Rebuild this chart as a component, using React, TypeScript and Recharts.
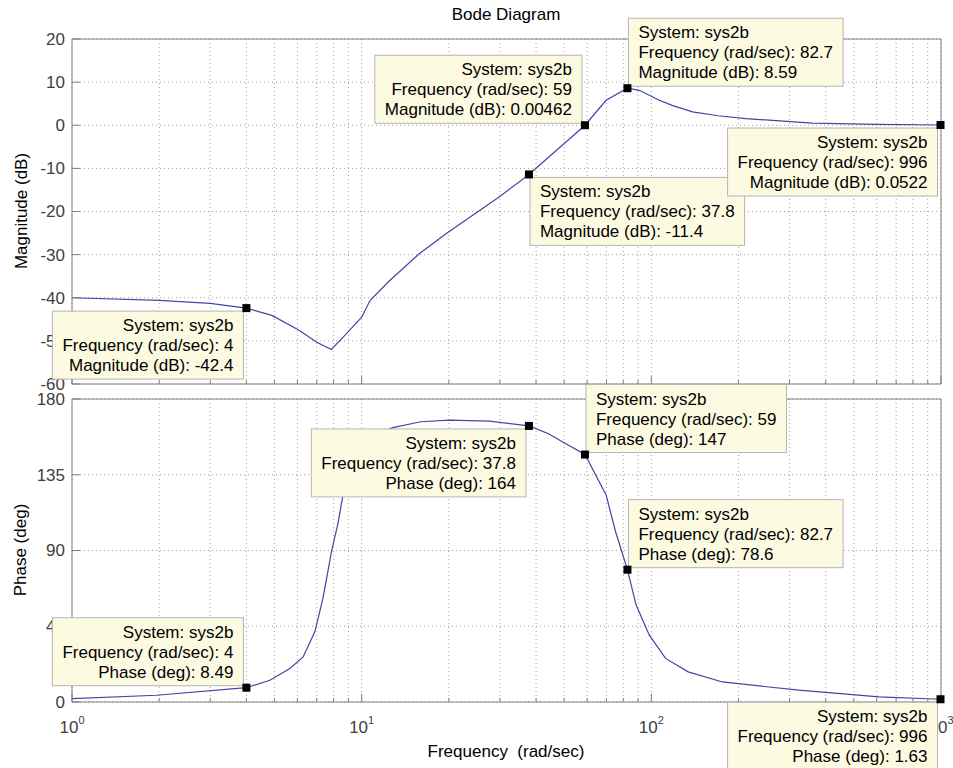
import React from "react";
import { LineChart, Line, XAxis, YAxis, CartesianGrid, ReferenceDot } from "recharts";

// axis ticks
const freqTicks = [1, 2, 3, 4, 5, 6, 7, 8, 9, 10, 20, 30, 40, 50, 60, 70, 80, 90, 100, 200, 300, 400, 500, 600, 700, 800, 900, 1000];
const magTicks = [-60, -50, -40, -30, -20, -10, 0, 10, 20];
const phaseTicks = [0, 45, 90, 135, 180];

// magnitude curve (rad/sec, dB)
const magFreq = [1, 2, 3, 4, 4.9, 6.1, 7.0, 7.86, 8.86, 10, 10.7, 12.5, 15.8, 19.6, 29.9, 37.8, 59, 69.8, 82.7, 90.8, 106.6, 118, 138.8, 170, 212, 359, 600, 996];
const magDb = [-40.0, -40.6, -41.3, -42.4, -44.1, -47.6, -50.3, -52.0, -48.3, -44.5, -40.6, -36.0, -29.8, -25.1, -16.6, -11.4, 0.00462, 5.8, 8.59, 8.1, 5.8, 4.6, 3.1, 2.2, 1.55, 0.5, 0.2, 0.0522];

// phase curve (rad/sec, deg)
const phaseFreq = [1, 1.96, 4, 4.82, 5.65, 6.28, 6.9, 7.36, 7.86, 8.28, 8.6, 9.5, 10.5, 12.8, 16, 20.1, 27.6, 37.8, 44, 50, 59, 69.8, 75.3, 82.7, 88.6, 98.4, 112, 134, 176, 323, 611, 996];
const phaseDeg = [2.0, 4.0, 8.49, 12.9, 19.9, 26.8, 42, 62, 89, 106, 122, 148, 157, 163, 166.5, 167.5, 166.8, 164, 159.5, 154, 147, 123, 101, 78.6, 57.6, 39.7, 25.9, 17.9, 11.9, 7, 3, 1.63];

// data tips
const magTipFreq = [4, 37.8, 59, 82.7, 996];
const magTipDb = [-42.4, -11.4, 0.00462, 8.59, 0.0522];
const magTipFreqText = ["4", "37.8", "59", "82.7", "996"];
const magTipValText = ["-42.4", "-11.4", "0.00462", "8.59", "0.0522"];
const magTipSide = ["bl", "br", "tl", "tr", "bl"];

const phaseTipFreq = [4, 37.8, 59, 82.7, 996];
const phaseTipDeg = [8.49, 164, 147, 78.6, 1.63];
const phaseTipFreqText = ["4", "37.8", "59", "82.7", "996"];
const phaseTipValText = ["8.49", "164", "147", "78.6", "1.63"];
const phaseTipSide = ["tl", "bl", "tr", "tr", "bl"];

const magData = magFreq.map((f, i) => ({ f, v: magDb[i] }));
const phaseData = phaseFreq.map((f, i) => ({ f, v: phaseDeg[i] }));

const FONT = "Arial, 'Liberation Sans', sans-serif";
const AXIS = "#808080";
const TICK_TEXT = "#404040";
const LINE = "#4444a4";
const FS = 17;

// arial widths /1000 for the box sizing
const CW: Record<string, number> = {
  S: 667, y: 500, s: 500, t: 278, e: 556, m: 833, ":": 278, " ": 278, b: 556, F: 611, r: 333, q: 556, u: 556,
  n: 556, c: 500, "(": 333, ")": 333, a: 556, d: 556, "/": 278, M: 833, g: 556, i: 222, B: 667, P: 667, h: 556,
  ".": 278, "-": 333,
};
const textWidth = (s: string) => s.split("").reduce((w, ch) => w + (CW[ch] ?? 556), 0) * FS / 1000;

const isMajor = (v: number) => {
  const l = Math.log10(v);
  return Math.abs(l - Math.round(l)) < 1e-6;
};

const BottomTick = (props: any) => {
  const { x, y, payload, showLabel } = props;
  const major = isMajor(payload.value);
  return (
    <g>
      <line x1={x} y1={y} x2={x} y2={y - (major ? 8 : 4)} stroke={AXIS} />
      {showLabel && major && (
        <text x={x} y={y + 31} textAnchor="middle" fill={TICK_TEXT} fontSize={FS} fontFamily={FONT}>
          10<tspan dy={-9} fontSize={11}>{Math.round(Math.log10(payload.value))}</tspan>
        </text>
      )}
    </g>
  );
};

const TopTick = (props: any) => {
  const { x, y, payload } = props;
  const major = isMajor(payload.value);
  return <line x1={x} y1={y} x2={x} y2={y + (major ? 8 : 4)} stroke={AXIS} />;
};

const LeftTick = (props: any) => {
  const { x, y, payload } = props;
  return (
    <g>
      <line x1={x} y1={y} x2={x + 8} y2={y} stroke={AXIS} />
      <text x={x - 7} y={y} dy="0.35em" textAnchor="end" fill={TICK_TEXT} fontSize={FS} fontFamily={FONT}>
        {payload.value}
      </text>
    </g>
  );
};

const RightTick = (props: any) => {
  const { x, y } = props;
  return <line x1={x} y1={y} x2={x - 8} y2={y} stroke={AXIS} />;
};

const Tip = ({ cx, cy, lines, side }: { cx: number; cy: number; lines: string[]; side: string }) => {
  const w = Math.max(...lines.map(textWidth)) + 20;
  const h = 68;
  const toLeft = side[1] === "l";
  const left = toLeft ? cx - 3 - w : cx + 1;
  const top = side[0] === "t" ? cy - 2 - h : cy + 3;
  return (
    <g>
      <rect x={left} y={top} width={w} height={h} fill="#fcfbe1" stroke="#b4b4b4" />
      {lines.map((s, i) => (
        <text
          key={i}
          x={toLeft ? left + w - 10 : left + 10}
          y={top + 20 + 20 * i}
          textAnchor={toLeft ? "end" : "start"}
          fontSize={FS}
          fontFamily={FONT}
          fill="#000"
        >
          {s}
        </text>
      ))}
      <rect x={cx - 4} y={cy - 4} width={8} height={8} fill="#000" />
    </g>
  );
};

const layer: React.CSSProperties = { position: "absolute", left: 0, top: 0 };

function Panel(props: {
  data: { f: number; v: number }[];
  domain: [number, number];
  yTicks: number[];
  margin: { top: number; right: number; bottom: number; left: number };
  showXLabels: boolean;
  tipFreq: number[];
  tipVal: number[];
  tipFreqText: string[];
  tipValText: string[];
  tipSide: string[];
  valueName: string;
}) {
  return (
    <div style={layer}>
      <LineChart width={953} height={768} data={props.data} margin={props.margin}>
        <CartesianGrid xAxisId="b" yAxisId="l" stroke="#a0a0a0" strokeDasharray="1 3" />
        <XAxis
          xAxisId="b"
          dataKey="f"
          type="number"
          scale="log"
          domain={[1, 1000]}
          ticks={freqTicks}
          interval={0}
          height={10}
          tickSize={0}
          tickMargin={0}
          tickLine={false}
          axisLine={{ stroke: AXIS }}
          tick={<BottomTick showLabel={props.showXLabels} />}
        />
        <XAxis
          xAxisId="t"
          orientation="top"
          type="number"
          scale="log"
          domain={[1, 1000]}
          ticks={freqTicks}
          interval={0}
          height={10}
          tickSize={0}
          tickMargin={0}
          tickLine={false}
          axisLine={{ stroke: AXIS }}
          tick={<TopTick />}
        />
        <YAxis
          yAxisId="l"
          type="number"
          domain={props.domain}
          ticks={props.yTicks}
          interval={0}
          width={40}
          tickSize={0}
          tickMargin={0}
          tickLine={false}
          axisLine={{ stroke: AXIS }}
          tick={<LeftTick />}
        />
        <YAxis
          yAxisId="r"
          orientation="right"
          type="number"
          domain={props.domain}
          ticks={props.yTicks}
          interval={0}
          width={10}
          tickSize={0}
          tickMargin={0}
          tickLine={false}
          axisLine={{ stroke: AXIS }}
          tick={<RightTick />}
        />
        <Line
          xAxisId="b"
          yAxisId="l"
          type="linear"
          dataKey="v"
          stroke={LINE}
          strokeWidth={1.2}
          dot={false}
          isAnimationActive={false}
        />
        {props.tipFreq.map((f, i) => (
          <ReferenceDot
            key={i}
            xAxisId="b"
            yAxisId="l"
            x={f}
            y={props.tipVal[i]}
            r={4}
            ifOverflow="visible"
            zIndex={3000}
            shape={(p: any) => (
              <Tip
                cx={p.cx}
                cy={p.cy}
                side={props.tipSide[i]}
                lines={[
                  "System: sys2b",
                  `Frequency (rad/sec): ${props.tipFreqText[i]}`,
                  `${props.valueName}: ${props.tipValText[i]}`,
                ]}
              />
            )}
          />
        ))}
      </LineChart>
    </div>
  );
}

export default function App() {
  return (
    <div style={{ position: "absolute", left: 0, top: 0, width: 953, height: 768, background: "#fff", fontFamily: FONT, overflow: "hidden" }}>
      <Panel
        data={magData}
        domain={[-60, 20]}
        yTicks={magTicks}
        margin={{ top: 29, right: 2, bottom: 374, left: 32 }}
        showXLabels={false}
        tipFreq={magTipFreq}
        tipVal={magTipDb}
        tipFreqText={magTipFreqText}
        tipValText={magTipValText}
        tipSide={magTipSide}
        valueName="Magnitude (dB)"
      />
      <Panel
        data={phaseData}
        domain={[0, 180]}
        yTicks={phaseTicks}
        margin={{ top: 389, right: 2, bottom: 56, left: 32 }}
        showXLabels={true}
        tipFreq={phaseTipFreq}
        tipVal={phaseTipDeg}
        tipFreqText={phaseTipFreqText}
        tipValText={phaseTipValText}
        tipSide={phaseTipSide}
        valueName="Phase (deg)"
      />
      <svg width={953} height={768} style={{ ...layer, pointerEvents: "none" }}>
        <text x={506} y={20} textAnchor="middle" fontSize={FS} fontFamily={FONT} fill="#000">Bode Diagram</text>
        <text x={506} y={757} textAnchor="middle" fontSize={FS} fontFamily={FONT} fill="#000" style={{ whiteSpace: "pre" }}>
          Frequency  (rad/sec)
        </text>
        <text transform="translate(27,211) rotate(-90)" textAnchor="middle" fontSize={FS} fontFamily={FONT} fill="#000">
          Magnitude (dB)
        </text>
        <text transform="translate(26,550) rotate(-90)" textAnchor="middle" fontSize={FS} fontFamily={FONT} fill="#000">
          Phase (deg)
        </text>
      </svg>
    </div>
  );
}
